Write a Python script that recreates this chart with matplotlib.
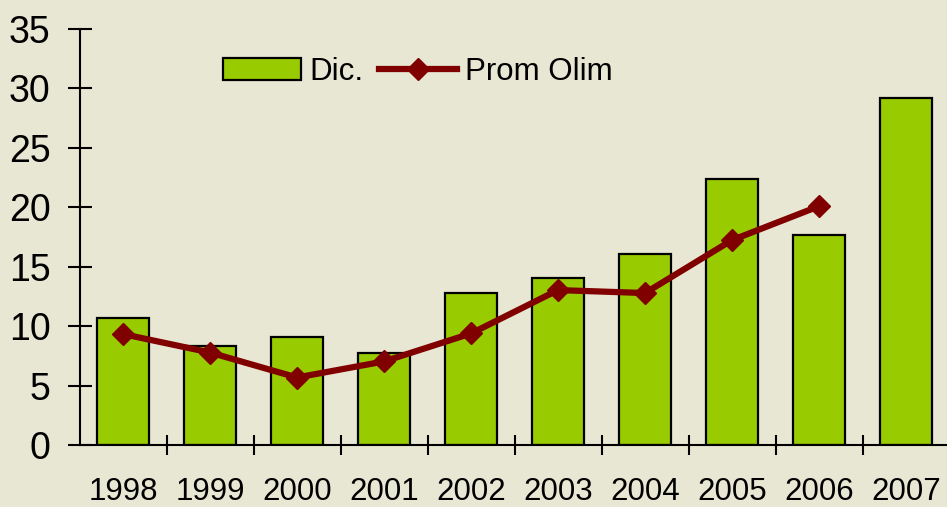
import matplotlib
matplotlib.use("Agg")
import matplotlib.pyplot as plt
import numpy as np

years = ["1998", "1999", "2000", "2001", "2002", "2003", "2004", "2005", "2006", "2007"]
dic = [10.7, 8.35, 9.1, 7.8, 12.8, 14.1, 16.1, 22.4, 17.7, 29.2]
prom_olim = [9.35, 7.8, 5.7, 7.05, 9.4, 13.05, 12.8, 17.25, 20.1]

BG = "#E8E7D3"
GREEN = "#99CC00"
RED = "#800000"

plt.rcParams['font.family'] = ['Liberation Sans', 'DejaVu Sans']

fig = plt.figure(figsize=(9.47, 5.07), dpi=100, facecolor=BG)
ax = fig.add_axes([79.5 / 947, 61.7 / 507, 870 / 947, 416.3 / 507])
ax.set_facecolor(BG)

x = np.arange(len(years))
bars = ax.bar(x, dic, width=0.6, color=GREEN, edgecolor="black", linewidth=1.6, label="Dic.", zorder=2)
line, = ax.plot(x[:len(prom_olim)], prom_olim, color=RED, linewidth=4.5, marker="D", markersize=11,
                label="Prom Olim", zorder=3, solid_joinstyle="round")

ax.set_xlim(-0.5, len(years) - 0.5)
ax.set_ylim(0, 35)
ax.set_yticks(np.arange(0, 36, 5))
ax.tick_params(axis="y", direction="inout", length=17.5, width=1.5, labelsize=27, pad=12, colors="black")

ax.set_xticks(x)
ax.set_xticklabels(years)
ax.tick_params(axis="x", which="major", length=0, labelsize=22.5, pad=23)
ax.set_xticks(np.arange(0.5, len(years) - 0.5, 1.0), minor=True)
ax.tick_params(axis="x", which="minor", direction="inout", length=15, width=1.5)

for s in ["top", "right"]:
    ax.spines[s].set_visible(False)
for s in ["left", "bottom"]:
    ax.spines[s].set_linewidth(1.5)
    ax.spines[s].set_color("black")
ax.spines["left"].set_bounds(0, 35)

leg = fig.legend(handles=[bars, line], labels=["Dic.", "Prom Olim"],
                 loc="upper left", bbox_to_anchor=(223 / 947, 1 - 57 / 507), ncol=2, frameon=False,
                 fontsize=22.5, handlelength=2.5, handletextpad=0.25, columnspacing=0.5,
                 borderpad=0, borderaxespad=0)

fig.savefig("out.png", dpi=100, facecolor=BG)
